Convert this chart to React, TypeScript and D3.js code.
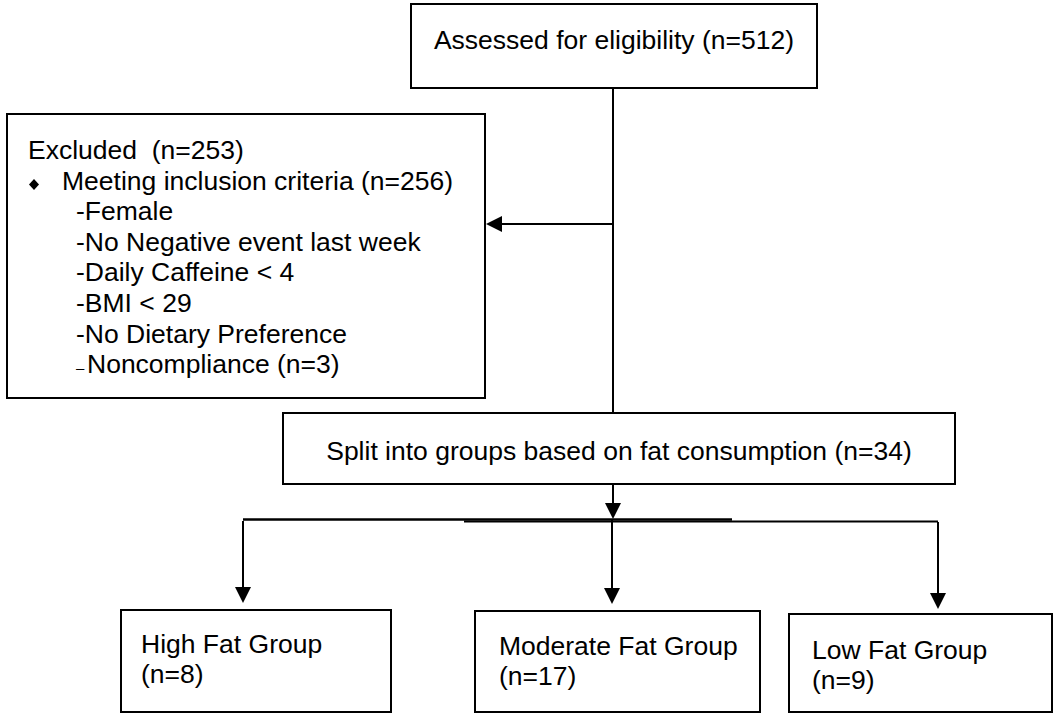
import React from 'react';
import * as d3 from 'd3';

// flow chart content
const assessedLabel = 'Assessed for eligibility (n=512)';
const excludedTitle = 'Excluded\u00A0 (n=253)';
const inclusionHeading = 'Meeting inclusion criteria (n=256)';
const inclusionCriteria = ['Female', 'No Negative event last week', 'Daily Caffeine < 4', 'BMI < 29', 'No Dietary Preference'];
const noncomplianceLabel = 'Noncompliance (n=3)';
const splitLabel = 'Split into groups based on fat consumption (n=34)';
const groupNames = ['High Fat Group', 'Moderate Fat Group', 'Low Fat Group'];
const groupCounts = [8, 17, 9];

const W = 1054;
const H = 719;
const FONT = '"Liberation Sans", Arial, Helvetica, sans-serif';
const FS = 26.5;

// layout (px)
const topBox = { x0: 411, x1: 817, y0: 4, y1: 88 };
const exclBox = { x0: 7, x1: 485, y0: 114, y1: 398 };
const splitBox = { x0: 283, x1: 955, y0: 413, y1: 484 };
const groupBoxes = [
  { x0: 121, x1: 391, y0: 610, y1: 712, tx: 141, ty: 653, drop: 243, barY: 521, tip: 603 },
  { x0: 475, x1: 760, y0: 611, y1: 712, tx: 499, ty: 655, drop: 612, barY: 520, tip: 604 },
  { x0: 789, x1: 1052, y0: 614, y1: 712, tx: 812, ty: 659, drop: 938, barY: 522, tip: 609 },
];
const trunkX = 613;

const line = d3.line<[number, number]>();

function arrowDown(x: number, y: number) {
  const p = d3.path();
  p.moveTo(x, y);
  p.lineTo(x - 8, y - 16);
  p.lineTo(x + 8, y - 16);
  p.closePath();
  return p.toString();
}

function arrowLeft(x: number, y: number) {
  const p = d3.path();
  p.moveTo(x, y);
  p.lineTo(x + 16, y - 8);
  p.lineTo(x + 16, y + 8);
  p.closePath();
  return p.toString();
}

function Box({ b }: { b: { x0: number; x1: number; y0: number; y1: number } }) {
  return <rect x={b.x0} y={b.y0} width={b.x1 - b.x0} height={b.y1 - b.y0} fill="#fff" stroke="#000" strokeWidth={2} />;
}

export default function App() {
  // baselines of the rows in the excluded box
  const row = d3.scaleLinear().domain([0, 1]).range([159, 189.6]);
  const arrowY = 224;

  return (
    <svg width={W} height={H} style={{ position: 'absolute', left: 0, top: 0, background: '#fff' }} fontFamily={FONT} fontSize={FS}>
      <rect width={W} height={H} fill="#fff" />

      {/* connectors */}
      <g stroke="#000" strokeWidth={2} fill="none">
        <path d={line([[trunkX, topBox.y1], [trunkX, splitBox.y0]]) || ''} />
        <path d={line([[trunkX, arrowY], [exclBox.x1 + 14, arrowY]]) || ''} />
        <path d={line([[trunkX, splitBox.y1], [trunkX, 505]]) || ''} />
        <path d={line([[243, 519.5], [732, 519.5]]) || ''} strokeWidth={2.5} />
        <path d={line([[464, 521.5], [938, 521.5]]) || ''} />
        {groupBoxes.map((g, i) => (
          <path key={i} d={line([[g.drop, g.barY], [g.drop, g.tip - 14]]) || ''} />
        ))}
      </g>
      <g fill="#000">
        <path d={arrowLeft(exclBox.x1 + 1, arrowY)} />
        <path d={arrowDown(trunkX, 519)} />
        {groupBoxes.map((g, i) => (
          <path key={i} d={arrowDown(g.drop, g.tip)} />
        ))}
      </g>

      {/* boxes */}
      <Box b={topBox} />
      <text x={(topBox.x0 + topBox.x1) / 2} y={49} textAnchor="middle">{assessedLabel}</text>

      <Box b={exclBox} />
      <text x={28} y={row(0)}>{excludedTitle}</text>
      <path d="M34,179 L39,184.5 L34,190 L29,184.5 Z" fill="#000" />
      <text x={62} y={row(1)}>{inclusionHeading}</text>
      {inclusionCriteria.map((c, i) => (
        <text key={c} x={76} y={row(i + 2)}>{'-' + c}</text>
      ))}
      <text x={76} y={row(inclusionCriteria.length + 2)}>
        <tspan fontSize={15}>–</tspan>
        <tspan x={87}>{noncomplianceLabel}</tspan>
      </text>

      <Box b={splitBox} />
      <text x={(splitBox.x0 + splitBox.x1) / 2} y={460} textAnchor="middle">{splitLabel}</text>

      {groupBoxes.map((g, i) => (
        <g key={groupNames[i]}>
          <Box b={g} />
          <text x={g.tx} y={g.ty}>{groupNames[i]}</text>
          <text x={g.tx} y={g.ty + 30}>{`(n=${groupCounts[i]})`}</text>
        </g>
      ))}
    </svg>
  );
}
